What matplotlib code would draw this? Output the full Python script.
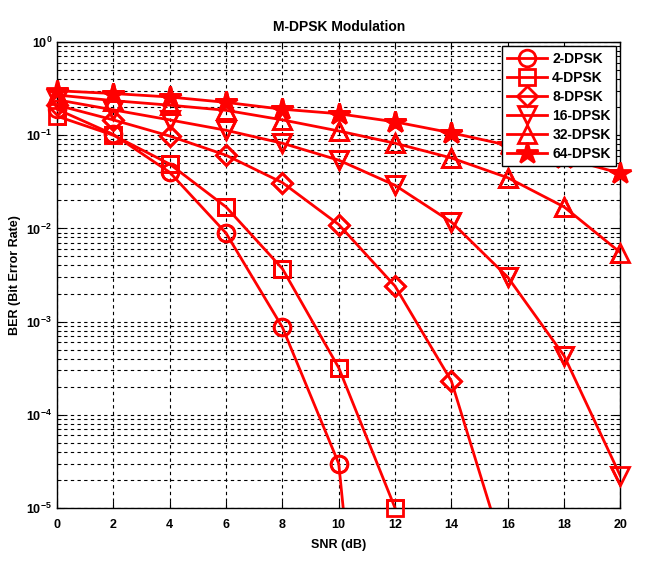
import numpy as np
import matplotlib
matplotlib.use("Agg")
import matplotlib.pyplot as plt
from matplotlib.ticker import FixedLocator, FixedFormatter, LogLocator, NullFormatter

plt.rcParams['font.family'] = ['Liberation Sans', 'DejaVu Sans']
plt.rcParams['font.weight'] = 'bold'
plt.rcParams['mathtext.fontset'] = 'custom'
plt.rcParams['mathtext.rm'] = 'Liberation Sans:bold'
plt.rcParams['mathtext.bf'] = 'Liberation Sans:bold'

snr = [0, 2, 4, 6, 8, 10, 12, 14, 16, 18, 20]
nan = np.nan
ber_2 = [0.19, 0.102, 0.040, 0.0089, 8.7e-4, 3.0e-5, 3e-11, nan, nan, nan, nan]
ber_4 = [0.16, 0.100, 0.049, 0.017, 0.0037, 3.2e-4, 1.0e-5, nan, nan, nan, nan]
ber_8 = [0.21, 0.146, 0.098, 0.061, 0.031, 0.011, 0.0024, 2.3e-4, 2.5e-6, nan, nan]
ber_16 = [0.24, 0.187, 0.146, 0.113, 0.082, 0.054, 0.029, 0.0117, 0.0030, 4.3e-4, 2.2e-5]
ber_32 = [0.27, 0.235, 0.21, 0.185, 0.146, 0.111, 0.082, 0.057, 0.035, 0.017, 0.0055]
ber_64 = [0.30, 0.28, 0.257, 0.225, 0.19, 0.17, 0.139, 0.106, 0.078, 0.057, 0.039]

labels = ['2-DPSK', '4-DPSK', '8-DPSK', '16-DPSK', '32-DPSK', '64-DPSK']
series = [ber_2, ber_4, ber_8, ber_16, ber_32, ber_64]
markers = ['o', 's', 'D', 'v', '^', '*']
msizes = [12, 11, 10, 13, 13, 16]

fig = plt.figure(figsize=(6.65, 5.73), dpi=100)
ax = fig.add_axes([0.0857, 0.1134, 0.8473, 0.8133])

ymin = 1e-5
for y, lab, m, ms in zip(series, labels, markers, msizes):
    fc = 'red' if m == '*' else 'none'
    ax.semilogy(snr, y, color='red', linewidth=2, marker=m, markersize=ms,
                markerfacecolor=fc, markeredgecolor='red', markeredgewidth=2,
                label=lab)
    arr = np.array(y, dtype=float)
    xs = np.array(snr, dtype=float)
    ok = np.isfinite(arr) & (arr >= ymin * 0.99)
    ax.plot(xs[ok], arr[ok], linestyle='none', marker=m, markersize=ms,
            markerfacecolor=fc, markeredgecolor='red', markeredgewidth=2,
            clip_on=False, zorder=3)

ax.set_xlim(0, 20)
ax.set_ylim(ymin, 1)
ax.set_xticks(snr)
ax.set_xticklabels([str(v) for v in snr])
ytick_vals = [1e-5, 1e-4, 1e-3, 1e-2, 1e-1, 1e0]
ytick_labs = [r'$10^{-5}$', r'$10^{-4}$', r'$10^{-3}$', r'$10^{-2}$', r'$10^{-1}$', r'$10^{0}$']
ax.yaxis.set_major_locator(FixedLocator(ytick_vals))
ax.yaxis.set_major_formatter(FixedFormatter(ytick_labs))
ax.yaxis.set_minor_locator(LogLocator(base=10, subs=np.arange(2, 10), numticks=20))
ax.yaxis.set_minor_formatter(NullFormatter())

ax.grid(True, which='major', axis='both', linestyle=(0, (3, 3)), color='black', linewidth=0.8)
ax.grid(True, which='minor', axis='y', linestyle=(0, (3, 3)), color='black', linewidth=0.8)

ax.tick_params(axis='both', which='both', direction='in', top=True, right=True, labelsize=9)
ax.tick_params(axis='both', which='major', length=5)
ax.tick_params(axis='x', which='major', pad=8)
ax.tick_params(axis='y', which='minor', length=3)
for s in ax.spines.values():
    s.set_linewidth(1.0)

ax.set_title('M-DPSK Modulation', fontsize=10, fontweight='bold', pad=8)
ax.set_xlabel('SNR (dB)', fontsize=9, fontweight='bold', labelpad=6)
ax.set_ylabel('BER (Bit Error Rate)', fontsize=9, fontweight='bold', labelpad=4)

leg = ax.legend(loc='upper right', fontsize=10, fancybox=False, framealpha=1,
                edgecolor='black', handlelength=2.9, borderpad=0.4,
                labelspacing=0.36, handletextpad=0.35, borderaxespad=0.3)
leg.set_zorder(5)
leg.get_frame().set_linewidth(1.0)
for t in leg.get_texts():
    t.set_fontweight('bold')

fig.savefig('out.png', dpi=100)
